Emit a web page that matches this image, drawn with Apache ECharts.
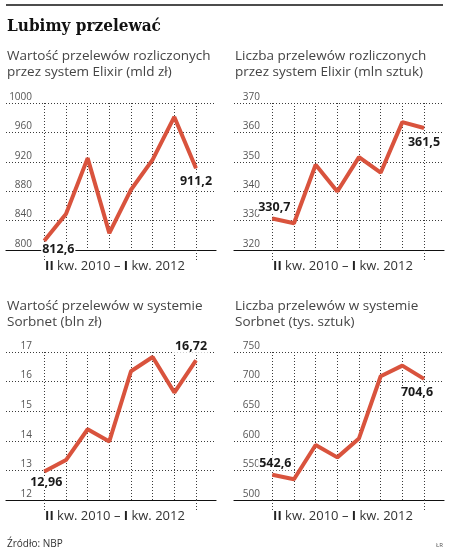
<!DOCTYPE html>
<html>
<head>
<meta charset="utf-8">
<script src="https://cdn.jsdelivr.net/npm/echarts@6/dist/echarts.min.js"></script>
<style>
html,body{margin:0;padding:0;background:#fff;}
#c{width:456px;height:552px;}
</style>
</head>
<body>
<div id="c"></div>
<script>
const categories = ['II kw. 2010','III kw. 2010','IV kw. 2010','I kw. 2011','II kw. 2011','III kw. 2011','IV kw. 2011','I kw. 2012'];
const elixirValue = [812.6, 849, 925, 823, 882, 923, 981, 911.2];
const elixirCount = [330.7, 329.1, 349, 339.9, 351.6, 346.3, 363.5, 361.5];
const sorbnetValue = [12.96, 13.35, 14.39, 13.98, 16.35, 16.83, 15.63, 16.72];
const sorbnetCount = [542.6, 535, 593, 572, 604, 709, 727, 704.6];

const titleText = 'Lubimy przelewać';
const subtitles = [
  'Wartość przelewów rozliczonych\nprzez system Elixir (mld zł)',
  'Liczba przelewów rozliczonych\nprzez system Elixir (mln sztuk)',
  'Wartość przelewów w systemie\nSorbnet (bln zł)',
  'Liczba przelewów w systemie\nSorbnet (tys. sztuk)'
];
const axisRanges = [
  {min: 800, max: 1000, interval: 40},
  {min: 320, max: 370, interval: 10},
  {min: 12, max: 17, interval: 1},
  {min: 500, max: 750, interval: 50}
];
const seriesData = [elixirValue, elixirCount, sorbnetValue, sorbnetCount];
const periodLabel = '{b|II} kw. 2010 – {b|I} kw. 2012';
const sourceText = 'Źródło: NBP';
const authorText = 'ŁR';

// layout (positions only)
const panels = [
  {ox: 0,   top: 103, height: 147, subTop: 48,  xlTop: 260, offs: [[14, 9], [0, 13]]},
  {ox: 228, top: 103, height: 147, subTop: 48,  xlTop: 260, offs: [[2, -11], [0, 14]]},
  {ox: 0,   top: 352, height: 148, subTop: 298, xlTop: 510, offs: [[2, 11], [-5, -14]]},
  {ox: 228, top: 352, height: 148, subTop: 298, xlTop: 510, offs: [[3, -11], [-7, 14]]}
];

const FONT = '"Open Sans", sans-serif';
const LINE = '#d9533d';
const DOT = '#3a3a3a';

const grid = [], xAxis = [], yAxis = [], series = [], title = [];

title.push({
  text: titleText, left: 7, top: 18, padding: 0,
  textStyle: {fontFamily: '"DejaVu Serif Condensed", "DejaVu Serif", serif', fontWeight: 'bold', fontSize: 17, color: '#111', lineHeight: 18}
});

panels.forEach((p, k) => {
  const r = axisRanges[k];
  const data = seriesData[k];
  grid.push({left: p.ox + 6, width: 210, top: p.top, height: p.height, containLabel: false});
  grid.push({left: p.ox + 44.3, width: 151.7, top: p.top, height: p.height, containLabel: false});
  const gw = 2 * k, gn = 2 * k + 1;
  xAxis.push({
    gridIndex: gw, type: 'value', min: 0, max: 1,
    axisLine: {show: true, onZero: false, lineStyle: {color: '#111', width: 1.2}},
    axisTick: {show: false}, axisLabel: {show: false}, splitLine: {show: false}
  });
  xAxis.push({
    gridIndex: gn, type: 'category', data: categories, boundaryGap: false,
    axisLine: {show: false},
    axisTick: {show: true, length: 11, interval: (i) => i === 0 || i === categories.length - 1,
      lineStyle: {color: DOT, width: 1, type: [1, 2]}},
    axisLabel: {show: false},
    splitLine: {show: true, interval: 0, lineStyle: {color: DOT, width: 1, type: [1, 2]}}
  });
  yAxis.push({
    gridIndex: gw, type: 'value', min: r.min, max: r.max, interval: r.interval,
    axisLine: {show: false}, axisTick: {show: false},
    axisLabel: {show: true, inside: true, align: 'right', verticalAlign: 'bottom', margin: 26,
      formatter: (v) => String(v),
      color: '#555', fontSize: 10, fontFamily: FONT, padding: [0, 0, 1, 0]},
    splitLine: {show: true, lineStyle: {color: DOT, width: 1, type: [1, 2]}}
  });
  yAxis.push({
    gridIndex: gn, type: 'value', min: r.min, max: r.max,
    axisLine: {show: false}, axisTick: {show: false}, axisLabel: {show: false}, splitLine: {show: false}
  });
  const last = data.length - 1;
  series.push({
    type: 'line', xAxisIndex: gn, yAxisIndex: gn, z: 5,
    symbol: 'circle', symbolSize: 1, showSymbol: true, showAllSymbol: true,
    itemStyle: {color: LINE},
    lineStyle: {color: LINE, width: 4},
    data: data.map((v, i) => {
      if (i === 0 || i === last) {
        const off = i === 0 ? p.offs[0] : p.offs[1];
        return {value: v, label: {show: true, position: 'inside', offset: off,
          formatter: (d) => String(d.value).replace('.', ','),
          color: '#1a1a1a', fontWeight: 'bold', fontSize: 12.5, fontFamily: FONT,
          backgroundColor: '#fff', padding: [0, 1]}};
      }
      return v;
    })
  });
  title.push({
    text: subtitles[k], left: p.ox + 7, top: p.subTop, padding: 0,
    textStyle: {fontFamily: FONT, fontWeight: 'normal', fontSize: 13.5, color: '#444', lineHeight: 16}
  });
  title.push({
    text: periodLabel, left: p.ox + 115, top: p.xlTop, textAlign: 'center', padding: 0,
    textStyle: {fontFamily: FONT, fontWeight: 'normal', fontSize: 13, color: '#333',
      rich: {b: {fontFamily: FONT, fontWeight: 'bold', fontSize: 13, color: '#222'}}}
  });
});

title.push({text: sourceText, left: 7, top: 539, padding: 0,
  textStyle: {fontFamily: FONT, fontWeight: 'normal', fontSize: 10, color: '#333'}});
title.push({text: authorText, left: 436, top: 542, padding: 0,
  textStyle: {fontFamily: FONT, fontWeight: 'normal', fontSize: 6, color: '#555'}});

const chart = echarts.init(document.getElementById('c'), null, {renderer: 'canvas'});
chart.setOption({
  backgroundColor: '#fff',
  animation: false,
  title: title,
  grid: grid,
  xAxis: xAxis,
  yAxis: yAxis,
  series: series,
  graphic: [{
    type: 'line', shape: {x1: 6, y1: 5, x2: 443, y2: 5},
    style: {stroke: '#111', lineWidth: 1.3}
  }]
});
</script>
</body>
</html>
